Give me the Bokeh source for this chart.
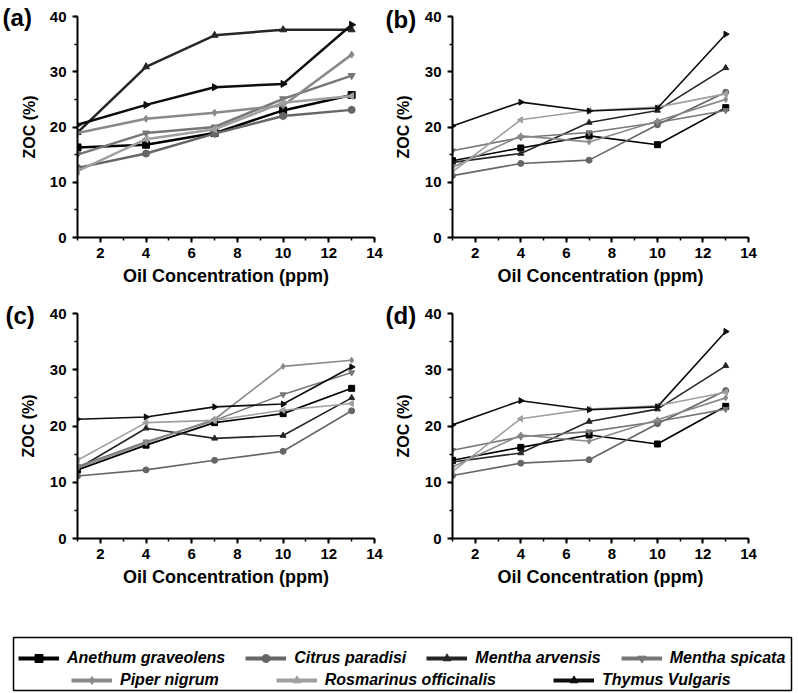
import math
from bokeh.plotting import figure
from bokeh.layouts import column, row
from bokeh.models import Range1d, SingleIntervalTicker, Label, Legend, LegendItem
from bokeh.embed import file_html
from bokeh.resources import INLINE

# ---------------- data ----------------
conc = [1, 4, 7, 10, 13]  # Oil concentration (ppm)

series = ["Anethum graveolens", "Citrus paradisi", "Mentha arvensis", "Mentha spicata",
          "Piper nigrum", "Rosmarinus officinalis", "Thymus Vulgaris"]

# panel (a)
anethum_a = [16.3, 16.8, 18.9, 23.0, 25.8]
citrus_a = [12.6, 15.2, 18.8, 22.0, 23.1]
arvensis_a = [19.0, 30.9, 36.6, 37.6, 37.6]
spicata_a = [15.0, 18.9, 20.0, 25.1, 29.3]
piper_a = [18.9, 21.5, 22.6, 23.9, 33.1]
rosmarinus_a = [12.0, 17.8, 19.6, 24.4, 25.6]
thymus_a = [20.4, 24.0, 27.2, 27.8, 38.5]

# panel (b)
anethum_b = [13.9, 16.2, 18.4, 16.8, 23.5]
citrus_b = [11.2, 13.4, 14.0, 20.4, 26.3]
arvensis_b = [13.6, 15.2, 20.8, 23.0, 30.7]
spicata_b = [15.7, 18.1, 19.0, 20.8, 23.0]
piper_b = [12.7, 18.4, 17.3, 21.1, 25.0]
rosmarinus_b = [11.9, 21.3, 23.0, 23.6, 26.0]
thymus_b = [20.2, 24.5, 22.9, 23.4, 36.8]

# panel (c)
anethum_c = [12.2, 16.6, 20.6, 22.2, 26.7]
citrus_c = [11.1, 12.2, 13.9, 15.5, 22.7]
arvensis_c = [12.4, 19.6, 17.8, 18.3, 25.0]
spicata_c = [12.8, 17.2, 21.0, 25.6, 29.5]
piper_c = [12.5, 17.0, 21.2, 30.6, 31.7]
rosmarinus_c = [13.9, 20.6, 21.0, 22.8, 24.0]
thymus_c = [21.2, 21.6, 23.4, 23.9, 30.5]

# panel (d)
anethum_d = [13.9, 16.2, 18.4, 16.8, 23.5]
citrus_d = [11.2, 13.4, 14.0, 20.4, 26.3]
arvensis_d = [13.6, 15.2, 20.8, 23.0, 30.7]
spicata_d = [15.7, 18.1, 19.0, 20.8, 23.0]
piper_d = [12.7, 18.4, 17.3, 21.1, 25.0]
rosmarinus_d = [11.9, 21.3, 23.0, 23.6, 26.0]
thymus_d = [20.2, 24.5, 22.9, 23.4, 36.8]

panel_a = [anethum_a, citrus_a, arvensis_a, spicata_a, piper_a, rosmarinus_a, thymus_a]
panel_b = [anethum_b, citrus_b, arvensis_b, spicata_b, piper_b, rosmarinus_b, thymus_b]
panel_c = [anethum_c, citrus_c, arvensis_c, spicata_c, piper_c, rosmarinus_c, thymus_c]
panel_d = [anethum_d, citrus_d, arvensis_d, spicata_d, piper_d, rosmarinus_d, thymus_d]

# ---------------- styles ----------------
colors = ["#000000", "#666666", "#262626", "#777777", "#8a8a8a", "#a0a0a0", "#0d0d0d"]
markers = ["square", "circle", "triangle", "inverted_triangle", "diamond", "triangle", "triangle"]
angles = [0, 0, 0, 0, 0, math.pi / 2, -math.pi / 2]

FONT = "Liberation Sans"
X_TITLE = "Oil Concentration (ppm)"
Y_TITLE = "ZOC (%)"


def make_panel(values, tag, width, height, bl, br, bt, bb, lw, ms, lab_x, lab_y, side,
               ytitle_as_label=False):
    p = figure(width=width, height=height, x_range=Range1d(1, 14), y_range=Range1d(0, 40),
               output_backend="svg", toolbar_location=None,
               min_border_left=bl, min_border_right=br, min_border_top=bt, min_border_bottom=bb)
    p.outline_line_color = None
    p.xgrid.visible = False
    p.ygrid.visible = False
    p.background_fill_color = "white"
    p.border_fill_color = "white"

    for vals, c, m, a in zip(values, colors, markers, angles):
        p.line(conc, vals, line_color=c, line_width=lw)
        p.scatter(conc, vals, marker=m, size=ms, fill_color=c, line_color=c, angle=a)

    p.xaxis.ticker = SingleIntervalTicker(interval=2, num_minor_ticks=2)
    p.yaxis.ticker = SingleIntervalTicker(interval=10, num_minor_ticks=2)
    p.xaxis.axis_label = X_TITLE
    if not ytitle_as_label:
        p.yaxis.axis_label = Y_TITLE
    for ax in (p.xaxis, p.yaxis):
        ax.axis_line_color = "black"
        ax.axis_line_width = 2
        ax.major_tick_line_color = "black"
        ax.major_tick_line_width = 2
        ax.minor_tick_line_color = "black"
        ax.minor_tick_line_width = 1.5
        ax.major_tick_in = 0
        ax.major_tick_out = 5
        ax.minor_tick_in = 0
        ax.minor_tick_out = 3
        ax.major_label_text_font = FONT
        ax.major_label_text_font_style = "bold"
        ax.major_label_text_font_size = "15px"
        ax.major_label_text_color = "black"
        ax.axis_label_text_font = FONT
        ax.axis_label_text_font_style = "bold"
        ax.axis_label_text_font_size = "16px"
        ax.axis_label_text_color = "black"
    p.xaxis.axis_label_text_font_size = "18px"
    p.xaxis.major_label_standoff = 5
    p.xaxis.axis_label_standoff = 5
    p.yaxis.major_label_standoff = 6
    p.yaxis.axis_label_standoff = 10

    if ytitle_as_label:
        # y-axis title drawn as a rotated label in the left side panel (same place as the axis title)
        p.add_layout(Label(x=-1.12, y=20, text=Y_TITLE, angle=math.pi / 2,
                           text_font=FONT, text_font_style="bold", text_font_size="16px",
                           text_align="center", text_baseline="middle", text_color="black"),
                     "left")

    # panel tag, put in a side panel so that it is not clipped to the data frame
    p.add_layout(Label(x=lab_x, y=lab_y, text=tag, text_font=FONT, text_font_style="bold",
                       text_font_size="24px", text_align="left", text_baseline="top",
                       text_color="black"), side)
    return p


pa = make_panel(panel_a, "(a)", 384, 296, 77, 10, 16, 59, 2.5, 7, -2.28, 42.35, "left",
                ytitle_as_label=True)
pb = make_panel(panel_b, "(b)", 406, 296, 68, 42, 16, 59, 1.6, 6, -1.94, 41.99, "right")
pc = make_panel(panel_c, "(c)", 384, 322, 77, 10, 17, 80, 1.6, 6, -2.15, 41.96, "below")
pd = make_panel(panel_d, "(d)", 406, 322, 68, 42, 17, 80, 1.6, 6, -1.94, 41.96, "below")

# ---------------- legend ----------------
pl = figure(width=793, height=74, x_range=Range1d(0, 1), y_range=Range1d(0, 1),
            output_backend="svg", toolbar_location=None,
            x_axis_location=None, y_axis_location=None,
            min_border_left=13, min_border_right=2, min_border_top=19, min_border_bottom=2)
pl.xgrid.visible = False
pl.ygrid.visible = False
pl.outline_line_color = "black"
pl.outline_line_width = 1.5

# legend keys: renderers carry the series data, which falls outside this frame's 0..1 range
items = []
for name, vals, c, m, a in zip(series, panel_a, colors, markers, angles):
    rl = pl.line(x=conc, y=vals, line_color=c, line_width=4)
    rs = pl.scatter(x=conc, y=vals, marker=m, size=8, fill_color=c, line_color=c, angle=a)
    items.append(LegendItem(label=name, renderers=[rl, rs]))


def make_legend(its, loc, spacing):
    return Legend(items=its, orientation="horizontal", location=loc, spacing=spacing,
                  glyph_width=41, glyph_height=20, label_standoff=8, padding=0, margin=0,
                  border_line_color=None, background_fill_alpha=0,
                  label_text_font=FONT, label_text_font_style="bold italic",
                  label_text_font_size="16px", label_text_color="black")


pl.add_layout(make_legend(items[:4], (5, 22), 20), "center")
pl.add_layout(make_legend(items[4:], (58, 0), 57), "center")

layout = column(row(pa, pb), row(pc, pd), pl)

open("out.html", "w").write(file_html(layout, INLINE))
